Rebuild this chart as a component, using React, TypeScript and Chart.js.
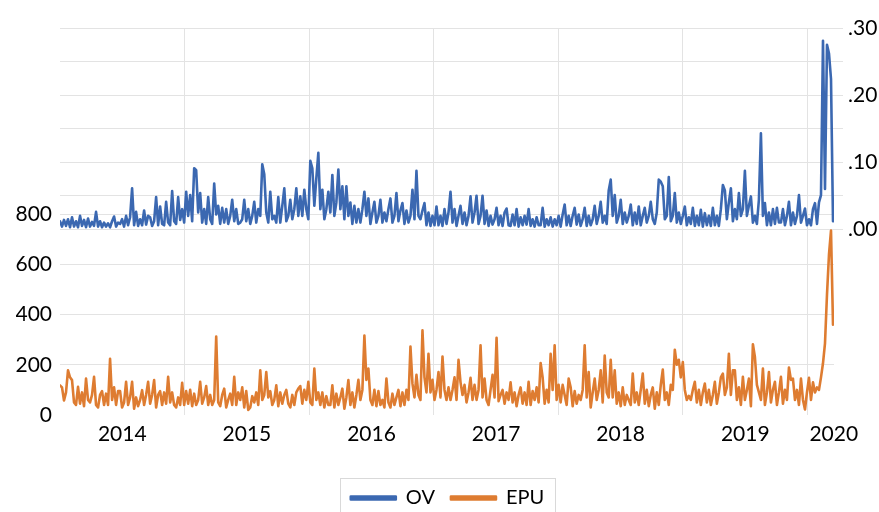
import React, { useEffect, useRef } from 'react';
import { Chart, registerables } from 'chart.js';

Chart.register(...registerables);

// ---- data ----
const X_START = 2014.0; // first observation (fractional year)
const X_END = 2020.204; // last observation (fractional year)
const X_MIN = 2014.0;
const X_MAX = 2020.212;

const ovValues: number[] = [
  0.012, 0.004, 0.014, 0.005, 0.015, 0.003, 0.018, 0.004, 0.012, 0.003, 0.02, 0.005, 0.014, 0.003, 0.016,
  0.004, 0.011, 0.005, 0.026, 0.004, 0.012, 0.003, 0.01, 0.004, 0.009, 0.003, 0.012, 0.019, 0.004, 0.01,
  0.008, 0.015, 0.004, 0.02, 0.006, 0.018, 0.061, 0.006, 0.026, 0.005, 0.015, 0.006, 0.028, 0.007, 0.02,
  0.018, 0.005, 0.012, 0.048, 0.006, 0.034, 0.008, 0.006, 0.041, 0.01, 0.006, 0.057, 0.012, 0.008, 0.048,
  0.014, 0.03, 0.01, 0.056, 0.02, 0.051, 0.012, 0.091, 0.088, 0.025, 0.054, 0.01, 0.03, 0.008, 0.048,
  0.015, 0.008, 0.068, 0.022, 0.035, 0.008, 0.032, 0.01, 0.03, 0.008, 0.02, 0.044, 0.012, 0.03, 0.008,
  0.01, 0.015, 0.044, 0.012, 0.03, 0.008, 0.02, 0.041, 0.01, 0.03, 0.02, 0.097, 0.082, 0.025, 0.01,
  0.056, 0.015, 0.02, 0.01, 0.048, 0.01, 0.035, 0.061, 0.012, 0.02, 0.044, 0.015, 0.03, 0.061, 0.02,
  0.049, 0.02, 0.059, 0.03, 0.015, 0.102, 0.091, 0.035, 0.076, 0.114, 0.03, 0.059, 0.015, 0.03, 0.056,
  0.025, 0.081, 0.02, 0.04, 0.089, 0.03, 0.064, 0.015, 0.064, 0.02, 0.04, 0.008, 0.035, 0.01, 0.03,
  0.01, 0.03, 0.056, 0.02, 0.046, 0.008, 0.025, 0.041, 0.01, 0.02, 0.044, 0.01, 0.025, 0.012, 0.03,
  0.046, 0.01, 0.02, 0.054, 0.012, 0.028, 0.039, 0.008, 0.028, 0.01, 0.02, 0.059, 0.015, 0.087, 0.02,
  0.015, 0.028, 0.039, 0.006, 0.025, 0.005, 0.02, 0.006, 0.034, 0.006, 0.02, 0.005, 0.03, 0.008, 0.025,
  0.056, 0.01, 0.03, 0.005, 0.02, 0.035, 0.008, 0.025, 0.006, 0.02, 0.049, 0.01, 0.025, 0.05, 0.008,
  0.02, 0.05, 0.008, 0.028, 0.005, 0.02, 0.007, 0.015, 0.032, 0.006, 0.02, 0.005, 0.025, 0.031, 0.006,
  0.005, 0.022, 0.006, 0.03, 0.004, 0.018, 0.006, 0.02, 0.007, 0.03, 0.005, 0.015, 0.004, 0.018, 0.006,
  0.006, 0.032, 0.004, 0.015, 0.006, 0.018, 0.004, 0.015, 0.006, 0.02, 0.004, 0.022, 0.037, 0.006, 0.02,
  0.005, 0.02, 0.032, 0.007, 0.022, 0.005, 0.015, 0.032, 0.005, 0.02, 0.006, 0.015, 0.035, 0.008, 0.02,
  0.041, 0.01, 0.02, 0.008, 0.058, 0.074, 0.02, 0.051, 0.01, 0.02, 0.044, 0.008, 0.025, 0.01, 0.02,
  0.037, 0.006, 0.025, 0.008, 0.034, 0.006, 0.02, 0.032, 0.01, 0.02, 0.041, 0.015, 0.008, 0.025, 0.074,
  0.071, 0.064, 0.015, 0.02, 0.078, 0.012, 0.02, 0.054, 0.01, 0.025, 0.008, 0.02, 0.034, 0.006, 0.018,
  0.008, 0.032, 0.005, 0.02, 0.006, 0.029, 0.004, 0.024, 0.006, 0.02, 0.005, 0.032, 0.006, 0.02, 0.005,
  0.03, 0.066, 0.058, 0.015, 0.04, 0.061, 0.012, 0.03, 0.015, 0.054, 0.02, 0.03, 0.087, 0.02, 0.035,
  0.049, 0.01, 0.02, 0.008, 0.044, 0.143, 0.02, 0.039, 0.006, 0.025, 0.006, 0.03, 0.008, 0.032, 0.01,
  0.01, 0.03, 0.006, 0.02, 0.041, 0.006, 0.025, 0.008, 0.02, 0.051, 0.01, 0.02, 0.031, 0.006, 0.015,
  0.006, 0.03, 0.039, 0.008, 0.04, 0.051, 0.281, 0.06, 0.275, 0.262, 0.224, 0.012,
];

const epuValues: number[] = [
  118, 110, 58, 90, 178, 150, 139, 50, 40, 112, 45, 90, 35, 145, 60,
  50, 80, 152, 40, 30, 80, 95, 40, 85, 40, 224, 60, 110, 40, 95,
  95, 30, 50, 132, 40, 70, 132, 25, 70, 35, 60, 99, 40, 80, 132,
  45, 80, 139, 30, 80, 95, 40, 90, 45, 152, 50, 90, 40, 30, 70,
  40, 128, 40, 95, 45, 100, 35, 85, 40, 60, 132, 45, 70, 115, 40,
  80, 40, 60, 313, 50, 35, 80, 105, 30, 60, 85, 40, 152, 40, 90,
  60, 110, 30, 95, 20, 30, 75, 50, 90, 40, 178, 60, 80, 171, 70,
  95, 40, 60, 118, 35, 90, 45, 80, 100, 45, 30, 80, 40, 90, 105,
  115, 45, 100, 60, 132, 50, 40, 185, 60, 90, 40, 90, 30, 75, 40,
  40, 118, 30, 85, 40, 70, 105, 25, 70, 139, 40, 90, 30, 80, 140,
  60, 100, 317, 140, 185, 60, 40, 100, 35, 95, 40, 60, 30, 145, 50,
  30, 85, 40, 70, 100, 35, 90, 40, 100, 60, 273, 125, 70, 160, 80,
  60, 337, 150, 90, 244, 90, 140, 60, 100, 171, 70, 233, 100, 60, 110,
  60, 100, 150, 60, 220, 130, 80, 120, 50, 90, 148, 60, 120, 60, 100,
  278, 70, 145, 60, 40, 100, 160, 70, 308, 55, 80, 100, 45, 90, 60,
  130, 50, 90, 35, 80, 110, 45, 90, 40, 132, 40, 95, 60, 110, 50,
  207, 150, 45, 100, 50, 244, 100, 278, 60, 120, 50, 120, 80, 40, 145,
  110, 35, 95, 45, 80, 60, 100, 278, 70, 171, 30, 90, 145, 60, 100,
  178, 50, 237, 90, 70, 220, 70, 178, 45, 90, 35, 110, 40, 80, 60,
  40, 165, 50, 90, 40, 100, 165, 45, 100, 35, 80, 110, 25, 90, 40,
  120, 181, 60, 90, 40, 120, 100, 260, 200, 220, 150, 211, 100, 60, 76,
  60, 100, 132, 50, 100, 40, 90, 125, 50, 100, 40, 80, 132, 45, 90,
  150, 165, 80, 110, 244, 80, 178, 178, 60, 110, 40, 152, 60, 100, 145,
  35, 282, 231, 120, 90, 60, 185, 40, 90, 171, 50, 100, 132, 40, 90,
  152, 45, 100, 60, 189, 140, 145, 60, 100, 40, 145, 60, 22, 90, 148,
  60, 130, 90, 110, 100, 150, 206, 285, 480, 640, 735, 360,
];

const yearGridTicks = [2015, 2016, 2017, 2018, 2019, 2020];
const yearLabels = ['2014', '2015', '2016', '2017', '2018', '2019', '2020'];
const yearLabelPos = [2014.5, 2015.5, 2016.5, 2017.5, 2018.5, 2019.5, 2020.21];
const epuTicks = [0, 200, 400, 600, 800];
const ovTicks = [0, 0.05, 0.1, 0.15, 0.2, 0.25, 0.3];
const EPU_MIN = 0;
const EPU_MAX = 1542;
const OV_MIN = -0.2768;
const OV_MAX = 0.3;

const BLUE = '#3b68b1';
const ORANGE = '#de7c31';
const GRID = '#e3e3e3';
const FONT = 'Lato';

const legendBorder = {
  id: 'legendBorder',
  afterDraw(chart: any) {
    const lg = chart.legend;
    const hb = lg && lg.legendHitBoxes;
    if (!hb || !hb.length) return;
    const first = hb[0];
    const last = hb[hb.length - 1];
    const left = Math.round(first.left - 11) + 0.5;
    const right = Math.round(last.left + last.width + 11) + 0.5;
    const cy = first.top + first.height / 2;
    const top = Math.round(cy - 20) + 0.5;
    const ctx = chart.ctx;
    ctx.save();
    ctx.strokeStyle = '#d9d9d9';
    ctx.lineWidth = 1;
    ctx.strokeRect(left, top, right - left, 44);
    ctx.restore();
  },
};

export default function App() {
  const ref = useRef<HTMLCanvasElement>(null);

  useEffect(() => {
    Chart.defaults.font.family = FONT;
    const n = ovValues.length;
    const xs = ovValues.map((_, i) => X_START + (i * (X_END - X_START)) / (n - 1));
    const lineStyle = {
      borderWidth: 2.6,
      pointRadius: 0,
      tension: 0,
      borderJoinStyle: 'round' as const,
      borderCapStyle: 'round' as const,
    };
    const chart = new Chart(ref.current as HTMLCanvasElement, {
      type: 'line',
      data: {
        datasets: [
          {
            label: 'OV',
            data: ovValues.map((v, i) => ({ x: xs[i], y: v })),
            xAxisID: 'x',
            yAxisID: 'y1',
            borderColor: BLUE,
            backgroundColor: BLUE,
            order: 2,
            ...lineStyle,
          },
          {
            label: 'EPU',
            data: epuValues.map((v, i) => ({ x: xs[i], y: v })),
            xAxisID: 'x',
            yAxisID: 'y',
            borderColor: ORANGE,
            backgroundColor: ORANGE,
            order: 1,
            ...lineStyle,
          },
        ],
      },
      options: {
        responsive: false,
        animation: false,
        events: [],
        layout: { padding: { top: 28, left: 16, right: 0, bottom: 0 } },
        plugins: {
          tooltip: { enabled: false },
          legend: {
            position: 'bottom',
            maxHeight: 40,
            labels: {
              boxWidth: 45,
              boxHeight: 3,
              padding: 16,
              color: '#000',
              font: { size: 20, family: FONT },
              sort: (a: any, b: any) => a.datasetIndex - b.datasetIndex,
            },
          },
        },
        scales: {
          x: {
            type: 'linear',
            position: 'bottom',
            min: X_MIN,
            max: X_MAX,
            afterBuildTicks: (s: any) => {
              s.ticks = yearGridTicks.map((v) => ({ value: v }));
            },
            afterFit: (s: any) => {
              s.height = 0;
            },
            ticks: { display: false },
            grid: { color: GRID, drawTicks: false },
            border: { display: false },
          },
          x2: {
            type: 'linear',
            position: 'bottom',
            min: X_MIN,
            max: X_MAX,
            afterBuildTicks: (s: any) => {
              s.ticks = yearLabelPos.map((v) => ({ value: v }));
            },
            afterFit: (s: any) => {
              s.height = 57;
            },
            ticks: {
              autoSkip: false,
              maxRotation: 0,
              padding: 7,
              color: '#000',
              font: { size: 21, family: FONT },
              callback: (_v: any, i: number) => yearLabels[i],
            },
            grid: { display: false, drawTicks: false },
            border: { display: false },
          },
          y: {
            type: 'linear',
            position: 'left',
            min: EPU_MIN,
            max: EPU_MAX,
            afterBuildTicks: (s: any) => {
              s.ticks = epuTicks.map((v) => ({ value: v }));
            },
            afterFit: (s: any) => {
              s.width = 44;
            },
            ticks: {
              autoSkip: false,
              padding: 8,
              color: '#000',
              font: { size: 21, family: FONT },
              callback: (v: any) => String(v),
            },
            grid: {
              drawTicks: false,
              color: (c: any) => (c.tick && c.tick.value === 0 ? 'rgba(0,0,0,0)' : GRID),
            },
            border: { display: false },
          },
          y1: {
            type: 'linear',
            position: 'right',
            min: OV_MIN,
            max: OV_MAX,
            afterBuildTicks: (s: any) => {
              s.ticks = ovTicks.map((v) => ({ value: v }));
            },
            afterFit: (s: any) => {
              s.width = 45;
            },
            ticks: {
              autoSkip: false,
              padding: 5,
              color: '#000',
              font: { size: 21, family: FONT },
              callback: (v: any) =>
                Math.round(v * 100) % 10 === 0 ? Number(v).toFixed(2).replace(/^0/, '') : '',
            },
            grid: { color: GRID, drawTicks: true, tickLength: 9 },
            border: { display: false },
          },
        },
      },
      plugins: [legendBorder],
    });
    return () => chart.destroy();
  }, []);

  return (
    <canvas
      ref={ref}
      width={879}
      height={512}
      style={{ position: 'fixed', left: 0, top: 0, width: 879, height: 512, background: '#fff' }}
    />
  );
}
